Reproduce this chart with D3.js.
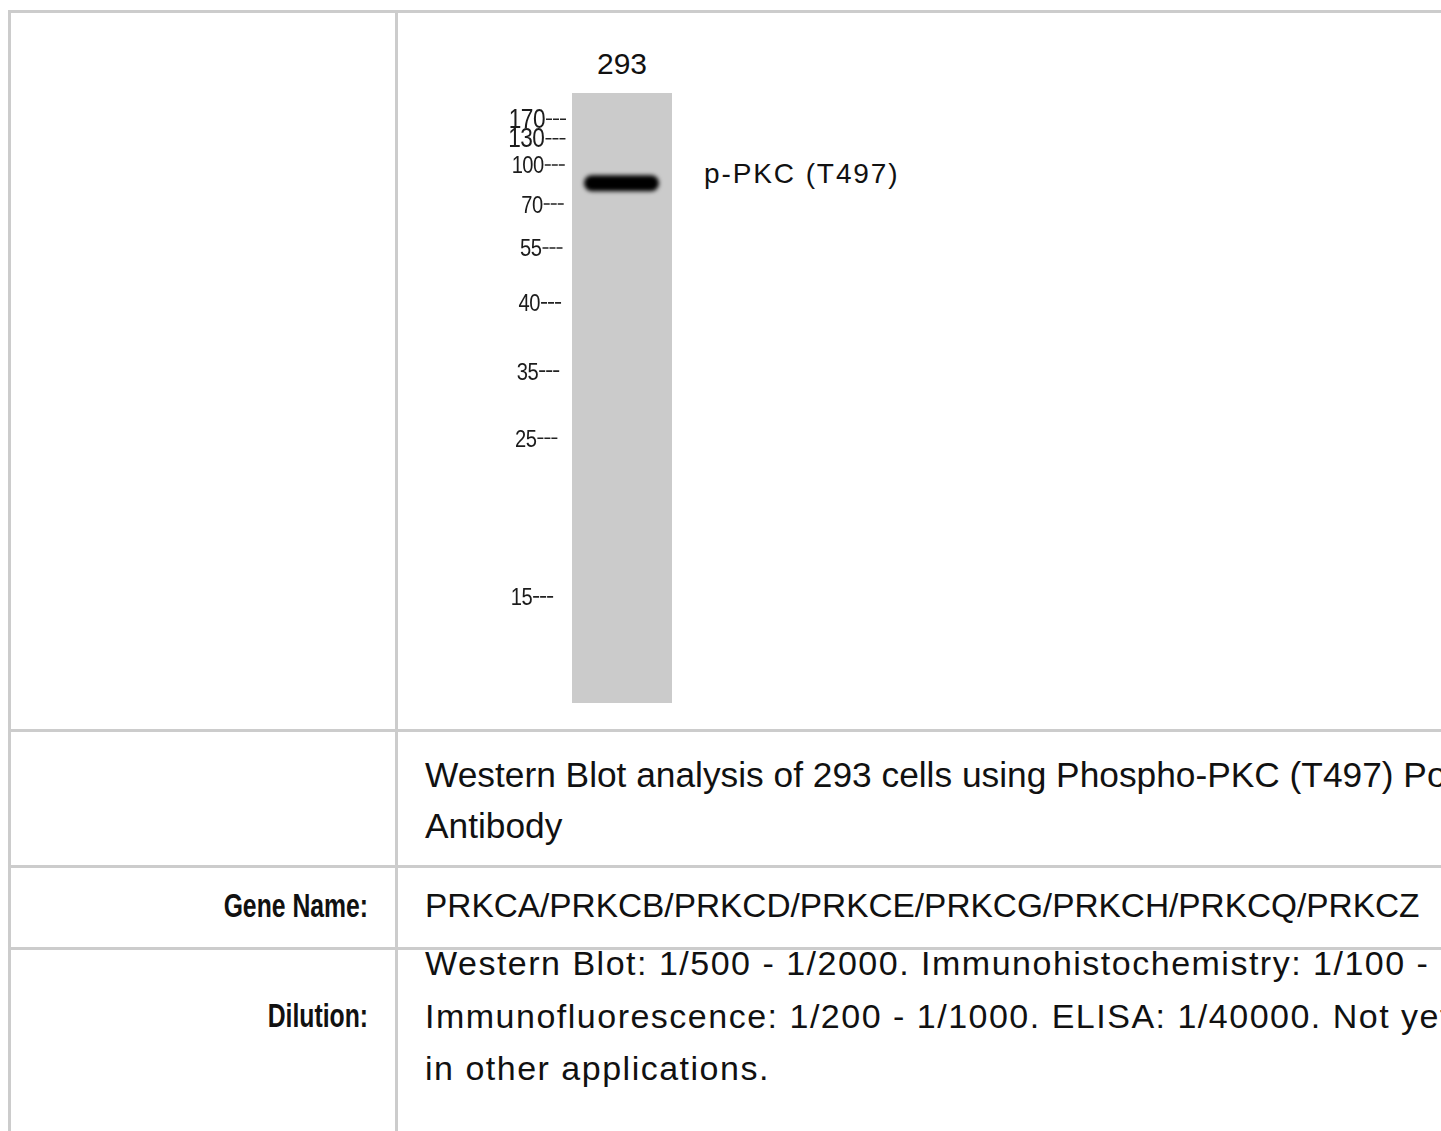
<!DOCTYPE html>
<html>
<head>
<meta charset="utf-8">
<script src="https://cdn.jsdelivr.net/npm/d3@7"></script>
<style>
  html, body { margin: 0; padding: 0; background: #fff; overflow: hidden; }
  svg { display: block; }
</style>
</head>
<body>
<svg id="sheet"></svg>
<script>
// DATA
const laneLabels = ["293"];
const markerKDa = [170, 130, 100, 70, 55, 40, 35, 25, 15];
// relative migration of each marker down the lane (0 = top of gel, 1 = bottom)
const markerMobility = [0.043, 0.075, 0.118, 0.182, 0.254, 0.344, 0.456, 0.566, 0.826];
const bandNames = ["p-PKC (T497)"];
const bandMobility = [0.148];
const bandIntensity = [1];

const rowLabels = ["", "", "Gene Name:", "Dilution:"];
const captionLines = ["Western Blot analysis of 293 cells using Phospho-PKC (T497) Polyclonal", "Antibody"];
const geneNames = ["PRKCA", "PRKCB", "PRKCD", "PRKCE", "PRKCG", "PRKCH", "PRKCQ", "PRKCZ"];
const dilutionLines = [
  "Western Blot: 1/500 - 1/2000. Immunohistochemistry: 1/100 - 1/300.",
  "Immunofluorescence: 1/200 - 1/1000. ELISA: 1/40000. Not yet tested",
  "in other applications."
];

document.addEventListener("DOMContentLoaded", function() {
    const W = 1441, H = 1131;
    const svg = d3.select('#sheet').attr('width', W).attr('height', H);

    const lineColor = '#cccccc';
    const sans = '"Liberation Sans", Arial, sans-serif';

    // TABLE GRID
    const tableLeft = 9.5, tableTop = 11.5, splitX = 396.5;
    const rowEdges = [11.5, 730.5, 866.5, 948.5];

    const grid = svg.append('g').attr('stroke', lineColor).attr('stroke-width', 3);
    grid.append('line').attr('x1', tableLeft).attr('x2', tableLeft).attr('y1', tableTop - 1.5).attr('y2', H);
    grid.append('line').attr('x1', splitX).attr('x2', splitX).attr('y1', tableTop - 1.5).attr('y2', H);
    grid.selectAll('line.row')
        .data(rowEdges)
        .enter().append('line')
        .attr('class', 'row')
        .attr('x1', tableLeft - 1.5).attr('x2', W + 10)
        .attr('y1', d => d).attr('y2', d => d);

    // BLOT
    const defs = svg.append('defs');
    defs.append('filter').attr('id', 'bandBlur')
        .attr('x', '-20%').attr('y', '-100%').attr('width', '140%').attr('height', '300%')
        .append('feGaussianBlur').attr('stdDeviation', 2.3);
    defs.append('filter').attr('id', 'soft')
        .append('feGaussianBlur').attr('stdDeviation', 0.35);

    const yScale = d3.scaleLinear().domain([0, 1]).range([93, 703]);
    const xScale = d3.scaleBand().domain(laneLabels).range([572, 672]);

    const blot = svg.append('g');

    blot.selectAll('rect.lane')
        .data(laneLabels)
        .enter().append('rect')
        .attr('class', 'lane')
        .attr('x', d => xScale(d))
        .attr('y', yScale(0))
        .attr('width', xScale.bandwidth())
        .attr('height', yScale(1) - yScale(0))
        .attr('fill', '#cbcbcb');

    blot.selectAll('text.lane-label')
        .data(laneLabels)
        .enter().append('text')
        .attr('class', 'lane-label')
        .attr('x', d => xScale(d) + xScale.bandwidth() / 2)
        .attr('y', 74)
        .attr('text-anchor', 'middle')
        .style('font-family', sans)
        .style('font-size', '30px')
        .attr('fill', '#111')
        .text(d => d);

    const bandH = 16;
    blot.selectAll('rect.band')
        .data(bandMobility)
        .enter().append('rect')
        .attr('class', 'band')
        .attr('x', xScale(laneLabels[0]) + 12)
        .attr('y', d => yScale(d) - bandH / 2)
        .attr('width', xScale.bandwidth() - 25)
        .attr('height', bandH)
        .attr('rx', 8)
        .attr('fill', '#000')
        .attr('opacity', (d, i) => bandIntensity[i])
        .attr('filter', 'url(#bandBlur)');

    blot.selectAll('text.band-name')
        .data(bandNames)
        .enter().append('text')
        .attr('class', 'band-name')
        .attr('x', 704)
        .attr('y', (d, i) => yScale(bandMobility[i]))
        .style('font-family', sans)
        .style('font-size', '28px')
        .style('letter-spacing', '1.9px')
        .attr('fill', '#111')
        .text(d => d);

    // marker ladder, the column leans slightly to the left going down
    const dashEnd = y => 566 - 0.027 * (y - 119);
    const markers = blot.selectAll('g.marker')
        .data(markerKDa)
        .enter().append('g')
        .attr('class', 'marker')
        .attr('filter', 'url(#soft)');

    markers.append('line')
        .attr('x1', (d, i) => dashEnd(yScale(markerMobility[i])) - 20)
        .attr('x2', (d, i) => dashEnd(yScale(markerMobility[i])))
        .attr('y1', (d, i) => yScale(markerMobility[i]))
        .attr('y2', (d, i) => yScale(markerMobility[i]))
        .attr('stroke', '#222')
        .attr('stroke-width', 1.6)
        .attr('stroke-dasharray', '6,1');

    markers.append('text')
        .attr('transform', (d, i) => {
            const y = yScale(markerMobility[i]);
            return `translate(${dashEnd(y) - 21},${y + 8.5}) scale(0.84,1)`;
        })
        .attr('text-anchor', 'end')
        .style('font-family', sans)
        .style('font-size', (d, i) => i < 2 ? '27px' : '24px')
        .style('letter-spacing', '-0.6px')
        .attr('fill', '#1a1a1a')
        .text(d => d);

    // TEXT ROWS
    const contentX = 425, labelX = 368;

    svg.selectAll('text.caption')
        .data(captionLines)
        .enter().append('text')
        .attr('class', 'caption')
        .attr('x', contentX)
        .attr('y', (d, i) => 787 + i * 51)
        .style('font-family', sans)
        .style('font-size', '35.3px')
        .attr('fill', '#111')
        .text(d => d);

    svg.append('text')
        .attr('x', contentX)
        .attr('y', 917)
        .style('font-family', sans)
        .style('font-size', '33.4px')
        .attr('fill', '#111')
        .text(geneNames.join('/'));

    svg.selectAll('text.dilution')
        .data(dilutionLines)
        .enter().append('text')
        .attr('class', 'dilution')
        .attr('x', contentX)
        .attr('y', (d, i) => 975 + i * 52.5)
        .style('font-family', sans)
        .style('font-size', '34px')
        .style('letter-spacing', '1.5px')
        .attr('fill', '#111')
        .text(d => d);

    // row labels are set in a condensed cut
    const labelY = [0, 0, 917, 1027];
    svg.selectAll('text.row-label')
        .data(rowLabels)
        .enter().append('text')
        .attr('class', 'row-label')
        .attr('transform', (d, i) => `translate(${labelX},${labelY[i]}) scale(0.75,1)`)
        .attr('text-anchor', 'end')
        .style('font-family', sans)
        .style('font-size', '33px')
        .style('font-weight', 'bold')
        .attr('fill', '#111')
        .text(d => d);
});
</script>
</body>
</html>
